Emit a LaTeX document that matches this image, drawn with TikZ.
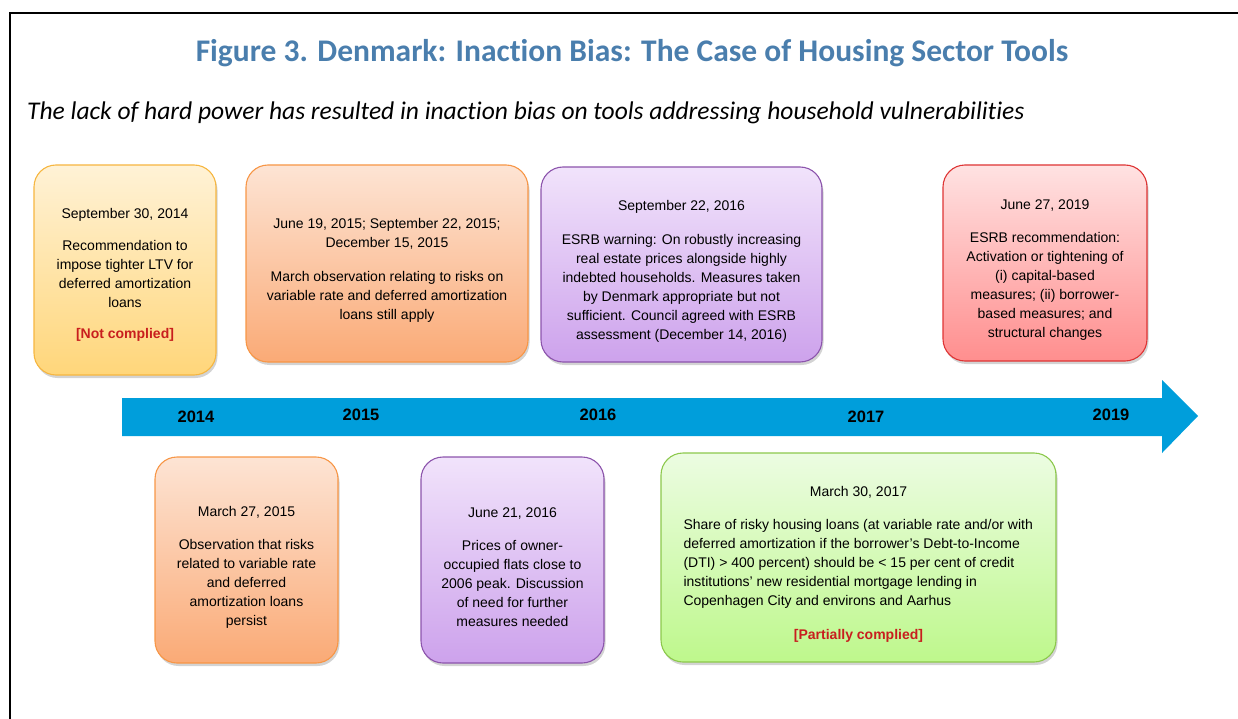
\documentclass[tikz,border=0pt]{standalone}
\usepackage{fontspec}
\setmainfont{Liberation Sans}
\newfontfamily\titlefont[Ligatures={NoCommon}]{Carlito}
\usetikzlibrary{shadows}

\definecolor{titleblue}{RGB}{74,126,173}
\definecolor{timeblue}{RGB}{0,158,219}
\definecolor{complyred}{RGB}{200,30,30}
\definecolor{yellowline}{RGB}{246,182,64}
\definecolor{yellowtop}{RGB}{255,242,214}
\definecolor{yellowbot}{RGB}{255,214,122}
\definecolor{orangeline}{RGB}{247,150,70}
\definecolor{orangetop}{RGB}{253,228,212}
\definecolor{orangebot}{RGB}{250,170,118}
\definecolor{purpleline}{RGB}{140,84,172}
\definecolor{purpletop}{RGB}{241,227,251}
\definecolor{purplebot}{RGB}{205,162,236}
\definecolor{redline}{RGB}{222,52,52}
\definecolor{redtop}{RGB}{255,226,226}
\definecolor{redbot}{RGB}{255,142,142}
\definecolor{greenline}{RGB}{140,200,76}
\definecolor{greentop}{RGB}{236,252,226}
\definecolor{greenbot}{RGB}{190,248,140}

\tikzstyle{eventbox}=[draw, rounded corners=22pt, line width=1.1pt, inner sep=0pt, align=center,
  font=\fontsize{14}{19}\selectfont,
  drop shadow={opacity=0.35, shadow xshift=1.5pt, shadow yshift=-3pt}]
\tikzstyle{yellowbox}=[eventbox, draw=yellowline, top color=yellowtop, bottom color=yellowbot]
\tikzstyle{orangebox}=[eventbox, draw=orangeline, top color=orangetop, bottom color=orangebot]
\tikzstyle{purplebox}=[eventbox, draw=purpleline, top color=purpletop, bottom color=purplebot]
\tikzstyle{redbox}=[eventbox, draw=redline, top color=redtop, bottom color=redbot]
\tikzstyle{greenbox}=[eventbox, draw=greenline, top color=greentop, bottom color=greenbot]
\tikzstyle{yearlabel}=[font=\fontsize{16.5}{18}\selectfont\bfseries, inner sep=0pt]

% date line of a box, with some room above it
\newcommand{\dateline}[2][24pt]{\rule{0pt}{#1}#2}
\newcommand{\notdone}[1]{\textcolor{complyred}{\bfseries #1}}

\begin{document}
\begin{tikzpicture}[x=1pt, y=-1pt]
    \useasboundingbox (0,0) rectangle (1238,719);
    % Frame round the figure
    \draw[line width=1.3pt] (10,719) -- (10,13) -- (1240,13);

    % Title and subtitle
    \node[font=\titlefont\fontsize{31.5}{34}\selectfont\bfseries, text=titleblue] (title) at (632,53)
        {Figure 3. Denmark: Inaction Bias: The Case of Housing Sector Tools};
    \node[font=\titlefont\fontsize{25.5}{28}\selectfont\itshape, anchor=west, inner sep=0pt] (subtitle) at (27,113)
        {The lack of hard power has resulted in inaction bias on tools addressing household vulnerabilities};

    % The time line
    \fill[timeblue] (122,398) -- (1162,398) -- (1162,380) -- (1198,416)
        -- (1162,453) -- (1162,436) -- (122,436) -- cycle;
    \foreach \x/\y/\yr in {196/417/2014, 361/415/2015, 598/415/2016, 866/417/2017, 1111/415/2019}
        \node[yearlabel] (y\yr) at (\x,\y) {\yr};

    % Events above the time line
    \node[yellowbox, minimum width=182pt, minimum height=210pt] (sep14) at (125,270)
        {\dateline[20pt]{September 30, 2014}\\[13pt]
         Recommendation to\\ impose tighter LTV for\\ deferred amortization\\ loans\\[12pt]
         \notdone{[Not complied]}};
    \node[orangebox, minimum width=282pt, minimum height=197pt] (jun15) at (387,263.5)
        {\dateline{June 19, 2015; September 22, 2015;}\\ December 15, 2015\\[15pt]
         March observation relating to risks on\\ variable rate and deferred amortization\\ loans still apply};
    \node[purplebox, minimum width=281pt, minimum height=195pt] (sep16) at (681.5,264.5)
        {\dateline{September 22, 2016}\\[15pt]
         ESRB warning: On robustly increasing\\ real estate prices alongside highly\\
         indebted households. Measures taken\\ by Denmark appropriate but not\\
         sufficient. Council agreed with ESRB\\ assessment (December 14, 2016)};
    \node[redbox, minimum width=204pt, minimum height=196pt] (jun19) at (1045,263)
        {\dateline{June 27, 2019}\\[14pt]
         ESRB recommendation:\\ Activation or tightening of\\ (i) capital-based\\
         measures; (ii) borrower-\\ based measures; and\\ structural changes};

    % Events below the time line
    \node[orangebox, minimum width=183pt, minimum height=206pt] (mar15) at (246.5,560)
        {\dateline{March 27, 2015}\\[14pt]
         Observation that risks\\ related to variable rate\\ and deferred\\ amortization loans\\ persist};
    \node[purplebox, minimum width=183pt, minimum height=206pt] (jun16) at (512.5,560)
        {\dateline{June 21, 2016}\\[14pt]
         Prices of owner-\\ occupied flats close to\\ 2006 peak. Discussion\\ of need for further\\ measures needed};
    \node[greenbox, minimum width=395pt, minimum height=209pt] (mar17) at (858.5,557.5)
        {\dateline{March 30, 2017}\\[20pt]
         \begin{minipage}{350pt}\raggedright
         Share of risky housing loans (at variable rate and/or with\\
         deferred amortization if the borrower's Debt-to-Income\\
         (DTI) > 400 percent) should be < 15 per cent of credit\\
         institutions' new residential mortgage lending in\\
         Copenhagen City and environs and Aarhus
         \end{minipage}\\[20pt]
         \notdone{[Partially complied]}};
\end{tikzpicture}
\end{document}
